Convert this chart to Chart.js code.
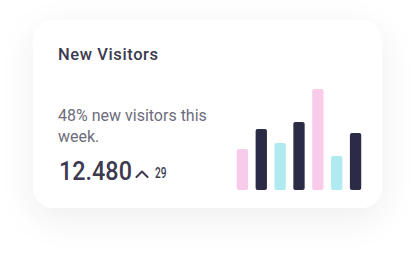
<!DOCTYPE html>
<html><head><meta charset="utf-8">
<script src="https://cdn.jsdelivr.net/npm/chart.js@4"></script>
<style>
html,body{margin:0;padding:0;background:#fff;width:415px;height:255px;overflow:hidden;font-family:Roboto,"Noto Sans",sans-serif;}
.card{position:absolute;left:33px;top:20px;width:349px;height:188px;border-radius:20px;background:#fff;box-shadow:0 10px 36px rgba(40,40,70,0.08);}
.t{position:absolute;white-space:nowrap;line-height:normal;transform-origin:0 0;}
.title{left:58px;top:44.7px;font-size:16.5px;font-weight:500;color:#3b3a4f;letter-spacing:0.6px;}
.desc{left:58px;top:105px;font-size:16px;line-height:21px;color:#6d6c7c;}
.big{left:59px;top:156.8px;font-size:25px;font-weight:500;color:#3b3a4f;transform:scaleX(0.935);}
.caret{position:absolute;left:135px;top:169.5px;width:14px;height:8px;}
.small{left:155px;top:165px;font-size:14px;font-weight:500;color:#3b3a4f;transform:scaleX(0.72);}
#wrap{position:absolute;left:233px;top:80px;width:132px;height:110px;}
</style></head>
<body>
<div class="card"></div>
<div class="t title">New Visitors</div>
<div class="t desc">48% new visitors this<br>week.</div>
<div class="t big">12.480</div>
<svg class="caret" viewBox="0 0 14 8"><polyline points="1.5,7 7,1.5 12.5,7" fill="none" stroke="#3b3a4f" stroke-width="2" stroke-linecap="round" stroke-linejoin="round"/></svg>
<div class="t small">29</div>
<div id="wrap"><canvas id="c"></canvas></div>
<script>
const days = ["Mon","Tue","Wed","Thu","Fri","Sat","Sun"];
const visitors = [41, 61, 47, 68, 101, 34, 57];
const barColors = ["#f8cbea","#2b2b45","#aeeaf0","#2b2b45","#f8cbea","#aeeaf0","#2b2b45"];
new Chart(document.getElementById('c'), {
  type: 'bar',
  data: { labels: days, datasets: [{ data: visitors, backgroundColor: barColors, borderRadius: 2, borderSkipped: false, barPercentage: 0.6, categoryPercentage: 1 }] },
  options: {
    responsive: true, maintainAspectRatio: false, animation: false,
    layout: { padding: 0 },
    plugins: { legend: { display: false }, tooltip: { enabled: false } },
    scales: { x: { display: false }, y: { display: false, min: 0, max: 110 } }
  }
});
</script>
</body></html>
